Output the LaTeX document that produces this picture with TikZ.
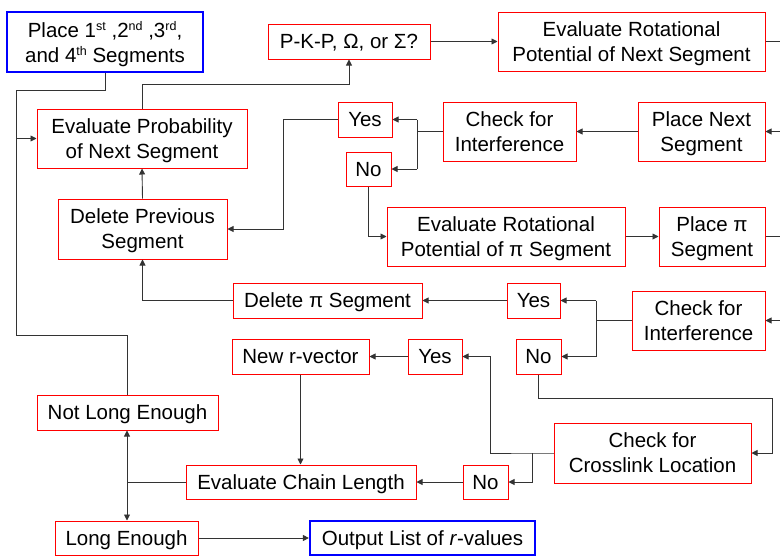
\documentclass[tikz,border=0pt]{standalone}
\usepackage{fontspec}
\setmainfont{Liberation Sans}
\usetikzlibrary{arrows.meta}
\newcommand{\ordsup}[1]{\raisebox{0.62ex}{\fontsize{12.5}{12.5}\selectfont #1}}
\tikzset{
  box/.style={draw=red, line width=1pt, rectangle, inner sep=0pt, align=center,
    text depth=0pt, font=\fontsize{20.5}{25}\selectfont, text=black},
  bluebox/.style={box, draw=blue, line width=2.2pt},
  link/.style={draw=black!80, line width=0.9pt},
  arr/.style={link, -{Triangle[length=6pt,width=6pt]}},
}
\begin{document}
\begin{tikzpicture}[x=1pt, y=-1pt]
\useasboundingbox (0,0) rectangle (780,555);

% process boxes
\node[bluebox, minimum width=196, minimum height=60] (place) at (105,42)
  {Place 1\ordsup{st} ,2\ordsup{nd} ,3\ordsup{rd},\\and 4\ordsup{th} Segments};
\node[box, minimum width=162, minimum height=35] (pkp) at (349,41.5) {P-K-P, Ω, or Σ?};
\node[box, minimum width=267, minimum height=59] (evrn) at (631.5,41.5) {Evaluate Rotational\\Potential of Next Segment};
\node[box, minimum width=210, minimum height=59] (evprob) at (142,138.5) {Evaluate Probability\\of Next Segment};
\node[box, minimum width=54, minimum height=35] (yes1) at (365,119.5) {Yes};
\node[box, minimum width=45, minimum height=34] (no1) at (368.5,169) {No};
\node[box, minimum width=133, minimum height=59] (chk1) at (509.5,131.5) {Check for\\Interference};
\node[box, minimum width=127, minimum height=59] (plnext) at (701.5,131.5) {Place Next\\Segment};
\node[box, minimum width=169, minimum height=60] (delprev) at (142.5,229) {Delete Previous\\Segment};
\node[box, minimum width=238, minimum height=59] (evrpi) at (506,236.5) {Evaluate Rotational\\Potential of π Segment};
\node[box, minimum width=106, minimum height=59] (plpi) at (712,236.5) {Place π\\Segment};
\node[box, minimum width=189, minimum height=35] (delpi) at (327.5,300.5) {Delete π Segment};
\node[box, minimum width=53, minimum height=35] (yes2) at (533.5,300.5) {Yes};
\node[box, minimum width=45, minimum height=35] (no2) at (538.5,356.5) {No};
\node[box, minimum width=133, minimum height=59] (chk2) at (698.5,320.5) {Check for\\Interference};
\node[box, minimum width=137, minimum height=35] (newr) at (300.5,356.5) {New r-vector};
\node[box, minimum width=54, minimum height=35] (yes3) at (435,356.5) {Yes};
\node[box, minimum width=181, minimum height=35] (notlong) at (127.5,412.5) {Not Long Enough};
\node[box, minimum width=230, minimum height=34] (evchain) at (301,482) {Evaluate Chain Length};
\node[box, minimum width=45, minimum height=34] (nocl) at (485.5,482) {No};
\node[box, minimum width=197, minimum height=60] (chkcl) at (652.5,453) {Check for\\Crosslink Location};
\node[box, minimum width=143, minimum height=34] (longen) at (126.5,538) {Long Enough};
\node[bluebox, minimum width=225, minimum height=34] (output) at (422.5,538) {Output List of \textit{r}-values};

% routing points
\coordinate (rt) at (780,0);
\coordinate (jl1) at (16,90);
\coordinate (jl2) at (16,335);
\coordinate (jp) at (349,84);
\coordinate (s1) at (417,131.5);
\coordinate (r1) at (283,0);
\coordinate (s2) at (596,320.5);
\coordinate (c1) at (772,398);
\coordinate (s3) at (532,453);
\coordinate (s4) at (490,453);
\coordinate (s5) at (127,482);

% connectors
\draw[link] (place.south) |- (jl1) -- (jl2) -| (notlong.north);
\draw[arr] (jl1 |- evprob.west) -- (evprob.west);
\draw[arr] (evprob.north) |- (jp) -- (pkp.south);
\draw[arr] (pkp) -- (evrn);
\draw[link] (evrn.east) -- (evrn.east -| rt);
\draw[arr] (plnext.east -| rt) -- (plnext.east);
\draw[arr] (plnext) -- (chk1);
\draw[link] (chk1.west) -- (s1);
\draw[link] (s1 |- yes1.east) -- (s1 |- no1.east);
\draw[arr] (s1 |- yes1.east) -- (yes1.east);
\draw[arr] (s1 |- no1.east) -- (no1.east);
\draw[arr] (yes1.west) -- (r1 |- yes1.west) |- (delprev.east);
\draw[arr] (no1.south) |- (evrpi.west);
\draw[arr] (evrpi) -- (plpi);
\draw[link] (plpi.east) -- (plpi.east -| rt);
\draw[arr] (chk2.east -| rt) -- (chk2.east);
\draw[link] (chk2.west) -- (s2);
\draw[link] (s2 |- yes2.east) -- (s2 |- no2.east);
\draw[arr] (s2 |- yes2.east) -- (yes2.east);
\draw[arr] (s2 |- no2.east) -- (no2.east);
\draw[arr] (yes2) -- (delpi);
\draw[arr] (delpi.west) -| (delprev.south);
\draw[arr] (delprev.north) -- (evprob.south);
\draw[arr] (no2.south) |- (c1) |- (chkcl.east);
\draw[link] (chkcl.west) -- (s3) -- (s4);
\draw[arr] (s3) |- (nocl.east);
\draw[arr] (s4) |- (yes3.east);
\draw[arr] (yes3) -- (newr);
\draw[arr] (newr.south) -- (newr.south |- evchain.north);
\draw[arr] (nocl) -- (evchain);
\draw[link] (evchain.west) -- (s5);
\draw[arr] (s5) -- (s5 |- notlong.south);
\draw[arr] (s5) -- (s5 |- longen.north);
\draw[arr] (longen) -- (output);
\end{tikzpicture}
\end{document}
